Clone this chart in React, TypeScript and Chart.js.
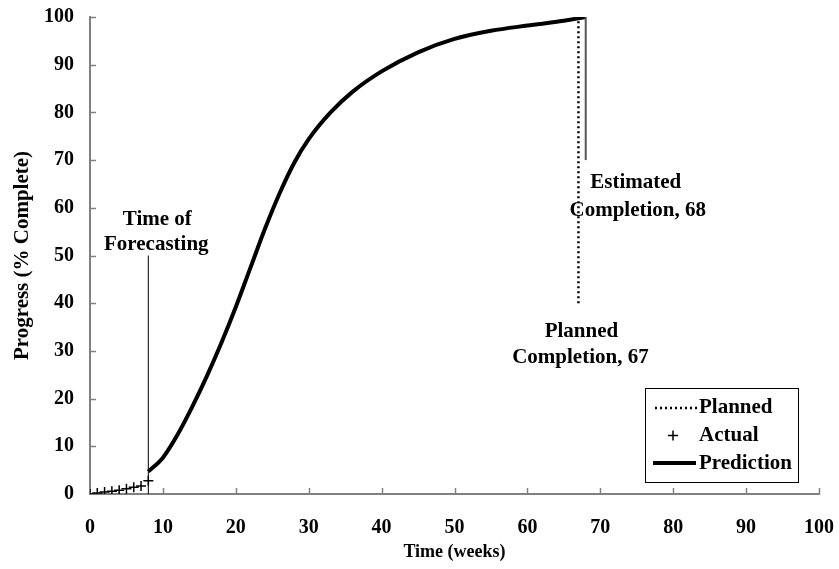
import React, { useEffect, useRef } from "react";
import { Chart, registerables } from "chart.js";

Chart.register(...registerables);

const xTicks = [0, 10, 20, 30, 40, 50, 60, 70, 80, 90, 100];
const yTicks = [0, 10, 20, 30, 40, 50, 60, 70, 80, 90, 100];

const actualWeeks = [0, 1, 2, 3, 4, 5, 6, 7, 8];
const actualProgress = [0, 0.2, 0.4, 0.6, 0.8, 1.1, 1.4, 1.7, 2.8];

const predWeeks = [8, 10, 12, 14, 16, 18, 20, 22, 24, 26, 28, 30, 33, 36, 40, 45, 50, 55, 60, 65, 68];
const predProgress = [4.7, 7.6, 12.4, 18.2, 24.6, 31.6, 39.2, 47.4, 55.6, 63, 69.4, 74.4, 80, 84.3, 88.6, 92.6, 95.4, 97.1, 98.2, 99.2, 100];

const plannedWeek = 67;
const plannedRange = [40, 100];
const estimatedWeek = 68;
const estimatedRange = [70, 100];
const forecastWeek = 8;
const forecastRange = [0, 50];

const FONT = "'Liberation Serif', 'Times New Roman', serif";

export default function App() {
  const ref = useRef<HTMLCanvasElement | null>(null);
  useEffect(() => {
    document.body.style.margin = "0";
    const canvas = ref.current!;
    const pts = (xs: number[], ys: number[]) => xs.map((x, i) => ({ x, y: ys[i] }));

    const innerTicks = {
      id: "innerTicks",
      afterDatasetsDraw(chart: any) {
        const { ctx, scales } = chart;
        const xs = scales.x, ys = scales.y;
        ctx.save();
        ctx.strokeStyle = "#808080";
        ctx.lineWidth = 1.5;
        xTicks.forEach((v) => {
          if (v === 0) return;
          const px = Math.round(xs.getPixelForValue(v)) + 0.5;
          ctx.beginPath();
          ctx.moveTo(px, ys.bottom);
          ctx.lineTo(px, ys.bottom - 6);
          ctx.stroke();
        });
        yTicks.forEach((v) => {
          if (v === 0) return;
          const py = Math.round(ys.getPixelForValue(v)) + 0.5;
          ctx.beginPath();
          ctx.moveTo(xs.left, py);
          ctx.lineTo(xs.left + 6, py);
          ctx.stroke();
        });
        ctx.restore();
      },
    };

    const annotations = {
      id: "annotations",
      afterDraw(chart: any) {
        const { ctx, scales } = chart;
        const xs = scales.x, ys = scales.y;
        ctx.save();
        ctx.fillStyle = "#000";
        ctx.font = `bold 21px ${FONT}`;
        ctx.textAlign = "center";
        ctx.textBaseline = "middle";
        const fx = xs.getPixelForValue(forecastWeek);
        ctx.fillText("Time of", fx + 9, ys.getPixelForValue(57.6));
        ctx.fillText("Forecasting", fx + 8, ys.getPixelForValue(52.2));
        const ex = xs.getPixelForValue(estimatedWeek);
        ctx.fillText("Estimated", ex + 50, ys.getPixelForValue(65.3));
        ctx.fillText("Completion, 68", ex + 52, ys.getPixelForValue(59.4));
        const px = xs.getPixelForValue(plannedWeek);
        ctx.fillText("Planned", px + 3, ys.getPixelForValue(34.0));
        ctx.fillText("Completion, 67", px + 2, ys.getPixelForValue(28.6));

        // legend
        const L = 645, T = 388, R = 798, B = 482;
        ctx.fillStyle = "#fff";
        ctx.fillRect(L, T, R - L, B - T);
        ctx.strokeStyle = "#000";
        ctx.lineWidth = 1;
        ctx.strokeRect(L + 0.5, T + 0.5, R - L, B - T);
        ctx.fillStyle = "#000";
        ctx.textAlign = "left";
        ctx.fillText("Planned", 699, 408);
        ctx.fillText("Actual", 699, 436);
        ctx.fillText("Prediction", 699, 464);
        ctx.lineWidth = 2.5;
        ctx.setLineDash([2, 3]);
        ctx.beginPath();
        ctx.moveTo(655, 408);
        ctx.lineTo(698, 408);
        ctx.stroke();
        ctx.setLineDash([]);
        ctx.lineWidth = 1.5;
        ctx.beginPath();
        ctx.moveTo(668, 435.5);
        ctx.lineTo(678, 435.5);
        ctx.moveTo(673, 430.5);
        ctx.lineTo(673, 440.5);
        ctx.stroke();
        ctx.lineWidth = 4;
        ctx.beginPath();
        ctx.moveTo(653, 463);
        ctx.lineTo(696, 463);
        ctx.stroke();
        ctx.restore();
      },
    };

    const chart = new Chart(canvas, {
      type: "scatter",
      data: {
        datasets: [
          {
            label: "Time of Forecasting",
            data: [{ x: forecastWeek, y: forecastRange[0] }, { x: forecastWeek, y: forecastRange[1] }],
            showLine: true,
            borderColor: "#000",
            borderWidth: 1,
            pointRadius: 0,
          },
          {
            label: "Planned",
            data: [{ x: plannedWeek, y: plannedRange[0] }, { x: plannedWeek, y: plannedRange[1] }],
            showLine: true,
            borderColor: "#000",
            borderWidth: 2.5,
            borderDash: [2, 3],
            pointRadius: 0,
          },
          {
            label: "Estimated",
            data: [{ x: estimatedWeek, y: estimatedRange[0] }, { x: estimatedWeek, y: estimatedRange[1] }],
            showLine: true,
            borderColor: "#555",
            borderWidth: 2,
            pointRadius: 0,
          },
          {
            label: "Actual",
            data: pts(actualWeeks, actualProgress),
            showLine: false,
            pointStyle: "cross",
            pointRadius: 5,
            borderColor: "#000",
            borderWidth: 1.5,
          },
          {
            label: "Prediction",
            data: pts(predWeeks, predProgress),
            showLine: true,
            borderColor: "#000",
            borderWidth: 4,
            pointRadius: 0,
            cubicInterpolationMode: "monotone",
          },
        ],
      },
      options: {
        responsive: false,
        animation: false,
        layout: { padding: { left: 0, top: 17, right: 20, bottom: 0 } },
        plugins: { legend: { display: false }, tooltip: { enabled: false } },
        scales: {
          x: {
            type: "linear",
            min: 0,
            max: 100,
            afterBuildTicks: (s: any) => { s.ticks = xTicks.map((v) => ({ value: v })); },
            afterFit: (s: any) => { s.height = 75; s.paddingLeft = 0; s.paddingRight = 0; },
            grid: { display: true, drawOnChartArea: false, drawTicks: false },
            border: { color: "#808080", width: 2 },
            ticks: { color: "#000", font: { family: FONT, size: 20, weight: "bold" }, padding: 22, maxRotation: 0 },
            title: {
              display: true,
              text: "Time (weeks)",
              color: "#000",
              font: { family: FONT, size: 18, weight: "bold" },
              padding: { top: 0, bottom: 6 },
            },
          },
          y: {
            type: "linear",
            min: 0,
            max: 100,
            afterBuildTicks: (s: any) => { s.ticks = yTicks.map((v) => ({ value: v })); },
            afterFit: (s: any) => { s.width = 90; s.paddingTop = 0; s.paddingBottom = 0; },
            grid: { display: true, drawOnChartArea: false, drawTicks: false },
            border: { color: "#808080", width: 2 },
            ticks: { color: "#000", font: { family: FONT, size: 20, weight: "bold" }, padding: 16 },
            title: {
              display: true,
              text: "Progress (% Complete)",
              color: "#000",
              font: { family: FONT, size: 21, weight: "bold" },
              padding: { top: 10, bottom: 0 },
            },
          },
        },
      },
      plugins: [innerTicks, annotations],
    } as any);
    return () => chart.destroy();
  }, []);
  return <canvas ref={ref} width={839} height={569} style={{ display: "block" }} />;
}
